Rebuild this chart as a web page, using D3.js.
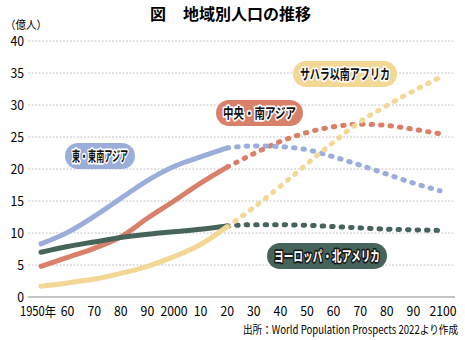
<!DOCTYPE html>
<html>
<head>
<meta charset="utf-8">
<script src="https://cdn.jsdelivr.net/npm/d3@7"></script>
<style>
  body { margin: 0; background: #fff; }
  text { font-family: "Noto Sans CJK JP", "Noto Sans", sans-serif; }
</style>
</head>
<body>
<svg id="drawing_region"></svg>
<script>
const years = [1950,1960,1970,1980,1990,2000,2010,2020,2030,2040,2050,2060,2070,2080,2090,2100];
const xTickLabels = ["1950年","60","70","80","90","2000","10","20","30","40","50","60","70","80","90","2100"];
const yTicks = [0,5,10,15,20,25,30,35,40];

// 億人
const eastAsia  = [8.3,10.1,12.6,15.4,18.2,20.4,21.9,23.3,23.6,23.5,23.0,21.9,20.6,19.2,17.8,16.6];
const southAsia = [4.8,6.2,7.6,9.4,12.3,15.0,17.8,20.3,22.4,24.3,25.7,26.6,27.0,26.8,26.2,25.5];
const subSahara = [1.7,2.2,2.8,3.7,4.8,6.3,8.2,11.0,14.0,17.3,20.8,24.2,27.4,29.9,32.2,34.3];
const europeNA  = [7.0,7.9,8.6,9.3,9.8,10.2,10.6,11.1,11.3,11.3,11.2,11.0,10.8,10.6,10.5,10.4];

const series = [
    { name: "中央・南アジア", values: southAsia, color: "#d9806a", text: "#111", halo: "#fff", label: [216, 100, 87] },
    { name: "東・東南アジア", values: eastAsia, color: "#9badd9", text: "#111", halo: "#fff", label: [65, 143, 70] },
    { name: "ヨーロッパ・北アメリカ", values: europeNA, color: "#46645a", text: "#fff", halo: "#1a1a1a", label: [267, 243, 120] },
    { name: "サハラ以南アフリカ", values: subSahara, color: "#f3d795", text: "#111", halo: "#fff", label: [293, 61, 104] }
];

const config = { width: 465, height: 340, lastActual: 2020 };

// condensed look for numbers: about 7px per digit
const numWidth = s => s.replace("年", "").length * 6.8 + (s.includes("年") ? 9 : 0);

const svg = d3.select("#drawing_region")
    .attr("width", config.width)
    .attr("height", config.height);

const x = d3.scaleLinear().domain([1950, 2100]).range([41, 440]);
const y = d3.scaleLinear().domain([0, 40]).range([297, 41]);

// title
svg.append("text")
    .attr("x", 150).attr("y", 20)
    .style("font-size", "16px").style("font-weight", "bold")
    .text("図");
svg.append("text")
    .attr("x", 183).attr("y", 20)
    .style("font-size", "16px").style("font-weight", "bold")
    .text("地域別人口の推移");

svg.append("text")
    .attr("x", 5).attr("y", 29)
    .attr("textLength", 42).attr("lengthAdjust", "spacingAndGlyphs")
    .style("font-size", "11px")
    .text("（億人）");

// grid
svg.append("g").selectAll("line")
    .data(yTicks)
    .enter()
    .append("line")
    .attr("x1", 28).attr("x2", 455)
    .attr("y1", d => y(d)).attr("y2", d => y(d))
    .attr("stroke", d => d === 0 ? "#8a8a8a" : "#c4c4c4")
    .attr("stroke-width", d => d === 0 ? 1.2 : 1)
    .attr("stroke-dasharray", d => d === 0 ? null : "2,1.5");

svg.append("g").selectAll("text")
    .data(yTicks)
    .enter()
    .append("text")
    .attr("x", 24).attr("y", d => y(d) + 5)
    .attr("text-anchor", "end")
    .attr("textLength", d => numWidth(String(d)))
    .attr("lengthAdjust", "spacingAndGlyphs")
    .style("font-size", "14px")
    .text(d => d);

svg.append("g").selectAll("text")
    .data(years)
    .enter()
    .append("text")
    .attr("x", (d, i) => x(d) + (i === 0 ? -3 : i === years.length - 1 ? 3 : 0))
    .attr("y", 316)
    .attr("text-anchor", "middle")
    .attr("textLength", (d, i) => numWidth(xTickLabels[i]))
    .attr("lengthAdjust", "spacingAndGlyphs")
    .style("font-size", "13px")
    .text((d, i) => xTickLabels[i]);

// lines
const line = d3.line()
    .x(d => x(d.year))
    .y(d => y(d.value))
    .curve(d3.curveMonotoneX);

const lines = svg.append("g");
series.forEach(s => {
    const pts = years.map((yr, i) => ({ year: yr, value: s.values[i] }));
    s.past = pts.filter(d => d.year <= config.lastActual);
    s.future = pts.filter(d => d.year >= config.lastActual);
    lines.append("path")
        .attr("d", line(s.future))
        .attr("fill", "none")
        .attr("stroke", s.color)
        .attr("stroke-width", 5)
        .attr("stroke-linecap", "round")
        .attr("stroke-dasharray", "1.5,8");
});
series.forEach(s => {
    lines.append("path")
        .attr("d", line(s.past))
        .attr("fill", "none")
        .attr("stroke", s.color)
        .attr("stroke-width", 5)
        .attr("stroke-linecap", "round");
});

// labels
series.forEach(s => {
    const [lx, ly, lw] = s.label;
    const h = 26;
    const g = svg.append("g");
    g.append("rect")
        .attr("x", lx).attr("y", ly)
        .attr("width", lw).attr("height", h)
        .attr("rx", h / 2)
        .attr("fill", s.color);
    g.append("text")
        .attr("x", lx + lw / 2).attr("y", ly + h / 2 + 5)
        .attr("text-anchor", "middle")
        .attr("textLength", lw - 14)
        .attr("lengthAdjust", "spacingAndGlyphs")
        .style("font-size", "14px")
        .style("font-weight", "bold")
        .attr("fill", s.text)
        .attr("stroke", s.halo)
        .attr("stroke-width", 3.5)
        .attr("stroke-linejoin", "round")
        .attr("paint-order", "stroke")
        .text(s.name);
});

svg.append("text")
    .attr("x", 458).attr("y", 334)
    .attr("text-anchor", "end")
    .attr("textLength", 215)
    .attr("lengthAdjust", "spacingAndGlyphs")
    .style("font-size", "11.5px")
    .text("出所：World Population Prospects 2022より作成");
</script>
</body>
</html>
